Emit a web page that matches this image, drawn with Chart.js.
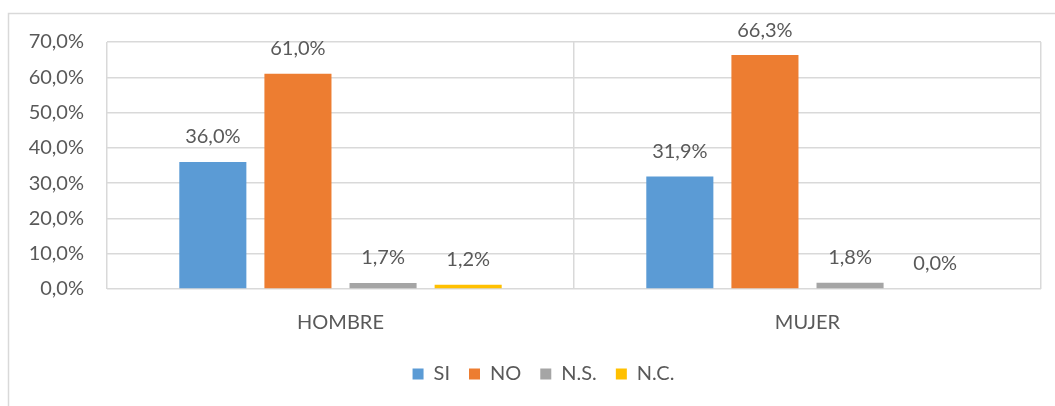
<!DOCTYPE html>
<html>
<head>
<meta charset="utf-8">
<script src="https://cdn.jsdelivr.net/npm/chart.js@4/dist/chart.umd.min.js"></script>
<style>
html,body{margin:0;padding:0;background:#fff;}
#wrap{width:1055px;height:406px;position:relative;}
</style>
</head>
<body>
<div id="wrap"><canvas id="c" width="1055" height="406"></canvas></div>
<script>
const categories = ["HOMBRE", "MUJER"];
const seriesNames = ["SI", "NO", "N.S.", "N.C."];
const siValues = [36.0, 31.9];
const noValues = [61.0, 66.3];
const nsValues = [1.7, 1.8];
const ncValues = [1.2, 0.0];
const yTicks = [0, 10, 20, 30, 40, 50, 60, 70];
const colors = ["#5B9BD5", "#ED7D31", "#A5A5A5", "#FFC000"];

const FONT = "Lato, 'Noto Sans', sans-serif";
const TXT = "#595959";
const GRID = "#D9D9D9";

function fmt(v){ return v.toFixed(1).replace('.', ',') + '%'; }

const frame = {
  id: 'frame',
  afterLayout(chart){
    const y = chart.scales.y;
    y.left = 0;
    y.width = y.right;
  },
  beforeDraw(chart){
    const ctx = chart.ctx;
    ctx.save();
    ctx.fillStyle = '#fff';
    ctx.fillRect(0,0,chart.width,chart.height);
    ctx.strokeStyle = GRID;
    ctx.lineWidth = 1.5;
    ctx.beginPath();
    ctx.moveTo(8.5, chart.height);
    ctx.lineTo(8.5, 13.5);
    ctx.lineTo(chart.width, 13.5);
    ctx.stroke();
    ctx.restore();
  }
};

const labels = {
  id: 'barLabels',
  afterDatasetsDraw(chart){
    const ctx = chart.ctx;
    ctx.save();
    ctx.font = "20px " + FONT;
    ctx.fillStyle = TXT;
    ctx.textAlign = 'center';
    ctx.textBaseline = 'middle';
    chart.data.datasets.forEach((ds, i) => {
      const meta = chart.getDatasetMeta(i);
      meta.data.forEach((bar, j) => {
        ctx.fillText(fmt(ds.data[j]), bar.x, bar.y - 25);
      });
    });
    ctx.restore();
  }
};

const allData = [siValues, noValues, nsValues, ncValues];

new Chart(document.getElementById('c'), {
  type: 'bar',
  data: {
    labels: categories,
    datasets: seriesNames.map((n, i) => ({
      label: n,
      data: allData[i],
      backgroundColor: colors[i],
      borderWidth: 0,
      categoryPercentage: 0.729,
      barPercentage: 0.788
    }))
  },
  options: {
    responsive: false,
    animation: false,
    devicePixelRatio: 1,
    layout: { padding: { left: 46, right: 14, top: 42, bottom: 12 } },
    plugins: {
      legend: {
        position: 'bottom',
        labels: {
          boxWidth: 11, boxHeight: 11, padding: 19,
          color: TXT,
          font: { family: FONT, size: 20 }
        }
      },
      tooltip: { enabled: false }
    },
    scales: {
      x: {
        grid: { color: GRID, lineWidth: 1.5, offset: true, drawTicks: false },
        border: { display: false },
        ticks: { color: TXT, font: { family: FONT, size: 20 }, padding: 22 },
        afterFit(s){ s.height = 56; }
      },
      y: {
        min: 0, max: 70,
        afterBuildTicks(s){ s.ticks = yTicks.map(v => ({ value: v })); },
        grid: { color: GRID, lineWidth: 1.5, drawTicks: false },
        border: { display: false },
        ticks: { color: TXT, font: { family: FONT, size: 20 }, padding: 23, callback: v => fmt(v) },
        afterFit(s){ s.width = 61; }
      }
    }
  },
  plugins: [frame, labels]
});
</script>
</body>
</html>
